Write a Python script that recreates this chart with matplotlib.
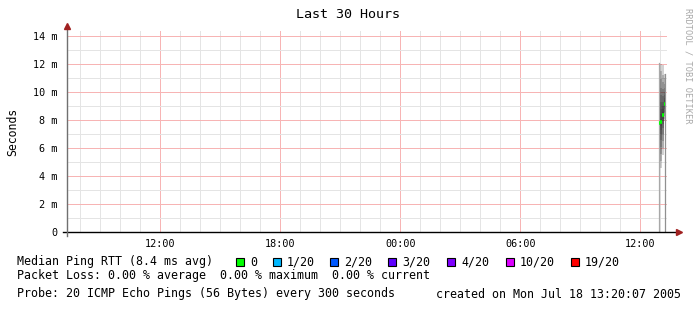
import matplotlib
matplotlib.use("Agg")
import matplotlib.pyplot as plt
import matplotlib.dates as mdates
from matplotlib.ticker import MultipleLocator
from matplotlib.patches import Rectangle
import numpy as np
import datetime as dt

# time window (last 30 hours)
t_end = dt.datetime(2005, 7, 18, 13, 20, 7)
t_start = t_end - dt.timedelta(hours=30)
step = dt.timedelta(seconds=300)

# the few 5 minute samples that have data (20 pings each, ms)
sample_times = [dt.datetime(2005, 7, 18, 13, 0), dt.datetime(2005, 7, 18, 13, 5),
                dt.datetime(2005, 7, 18, 13, 10), dt.datetime(2005, 7, 18, 13, 15)]
pings = [
    [5.0, 5.4, 5.9, 6.3, 6.7, 7.0, 7.2, 7.4, 7.6, 7.7, 7.9, 8.1, 8.4, 8.8, 9.2, 9.8, 10.4, 11.0, 11.6, 12.1],
    [4.6, 5.1, 5.6, 6.1, 6.6, 7.0, 7.3, 7.6, 7.8, 7.8, 7.9, 8.1, 8.4, 8.8, 9.3, 9.8, 10.3, 10.9, 11.5, 12.0],
    [5.5, 6.0, 6.5, 7.0, 7.4, 7.7, 7.9, 8.1, 8.2, 8.3, 8.4, 8.6, 8.8, 9.0, 9.3, 9.7, 10.2, 10.7, 11.2, 11.9],
    [7.9, 8.1, 8.3, 8.5, 8.6, 8.8, 8.9, 9.0, 9.1, 9.1, 9.2, 9.3, 9.4, 9.6, 9.8, 10.0, 10.3, 10.6, 11.0, 11.3],
]

y_ticks = [0, 2, 4, 6, 8, 10, 12, 14]
y_labels = ["0", "2 m", "4 m", "6 m", "8 m", "10 m", "12 m", "14 m"]

legend_names = ["0", "1/20", "2/20", "3/20", "4/20", "10/20", "19/20"]
legend_colors = ["#00ff00", "#00b8ff", "#0059ff", "#5e00ff", "#7e00ff", "#dd00ff", "#ff0000"]

W, H = 697, 313
mono = "DejaVu Sans Mono"

fig = plt.figure(figsize=(W / 100, H / 100), dpi=100)
fig.patch.set_facecolor("white")

def px(x, y):  # pixel -> figure fraction
    return x / W, 1 - y / H

ax = fig.add_axes([67 / W, (H - 232) / H, 600 / W, 201 / H])
ax.set_xlim(t_start, t_end)
ax.set_ylim(0, 14.36)
for s in ax.spines.values():
    s.set_visible(False)

minor_c, major_c = "#e4e4e4", "#f7b4b4"

# grid: grey minor, red major
ax.xaxis.set_minor_locator(mdates.HourLocator())
ax.xaxis.set_major_locator(mdates.HourLocator(byhour=[0, 6, 12, 18]))
ax.xaxis.set_major_formatter(mdates.DateFormatter("%H:%M"))
ax.set_yticks(y_ticks)
ax.set_yticklabels(y_labels, family=mono, fontsize=7.3)
ax.yaxis.set_minor_locator(MultipleLocator(1))
ax.grid(which="minor", color=minor_c, lw=0.72)
ax.grid(which="major", color=major_c, lw=0.72)
ax.set_axisbelow(True)
ax.tick_params(axis="x", which="both", length=0, pad=5, labelsize=7.3)
for lab in ax.get_xticklabels():
    lab.set_family(mono)
ax.tick_params(axis="y", which="both", length=0, pad=7)
ax.set_ylabel("Seconds", family=mono, fontsize=8.3, labelpad=10)

# smoke
for t, p in zip(sample_times, pings):
    p = np.sort(p)
    n = len(p)
    x0, x1 = mdates.date2num(t - step), mdates.date2num(t)
    for i in range(n // 2):
        ax.fill_between([x0, x1], p[i], p[n - 1 - i], color="#202020", alpha=0.2, lw=0, zorder=2)
    med = np.median(p)
    ax.plot([x0, x1], [med, med], color=legend_colors[0], lw=2.6, solid_capstyle="butt", zorder=4)

# outer edges of the data block
first_x = mdates.date2num(sample_times[0] - step)
last_x = mdates.date2num(sample_times[-1])
ax.plot([first_x, first_x], [0, max(pings[0])], color="#a8a8a8", lw=0.9, zorder=3)
ax.plot([last_x, last_x], [0, max(pings[-1])], color="#909090", lw=0.9, zorder=3)

# axes lines with arrows
ax.plot([-4 / 600, 1.017], [0, 0], transform=ax.transAxes, color="black", lw=1.0, clip_on=False, zorder=5)
ax.plot([0, 0], [-3.5 / 201, 1.02], transform=ax.transAxes, color="#707070", lw=1.0, clip_on=False, zorder=5)
ax.plot([1.02], [0], marker=">", transform=ax.transAxes, color="#a02020", ms=5, clip_on=False, zorder=6)
ax.plot([0], [1.025], marker="^", transform=ax.transAxes, color="#a02020", ms=5, clip_on=False, zorder=6)

# title and watermark
fig.text(*px(348, 15), "Last 30 Hours", family=mono, fontsize=9.6, ha="center", va="center")
fig.text(*px(688, 8), "RRDTOOL / TOBI OETIKER", family=mono, fontsize=6.2, color="#a8a8a8",
         rotation=270, ha="center", va="top")

# legend rows
fs = 8.4
fig.text(*px(17, 262), "Median Ping RTT (8.4 ms avg)", family=mono, fontsize=fs, va="center")
sq_x = [236, 273, 330, 388, 447, 506, 571]
for x, name, c in zip(sq_x, legend_names, legend_colors):
    fig.patches.append(Rectangle(px(x, 266), 8 / W, 8 / H, transform=fig.transFigure,
                                 facecolor=c, edgecolor="black", lw=0.8))
    fig.text(*px(x + 14, 262), name, family=mono, fontsize=fs, va="center")
fig.text(*px(17, 275), "Packet Loss: 0.00 % average  0.00 % maximum  0.00 % current",
         family=mono, fontsize=fs, va="center")
fig.text(*px(17, 294), "Probe: 20 ICMP Echo Pings (56 Bytes) every 300 seconds",
         family=mono, fontsize=fs, va="center")
fig.text(*px(681, 294), "created on Mon Jul 18 13:20:07 2005", family=mono, fontsize=fs,
         va="center", ha="right")

fig.savefig("out.png", dpi=100)
